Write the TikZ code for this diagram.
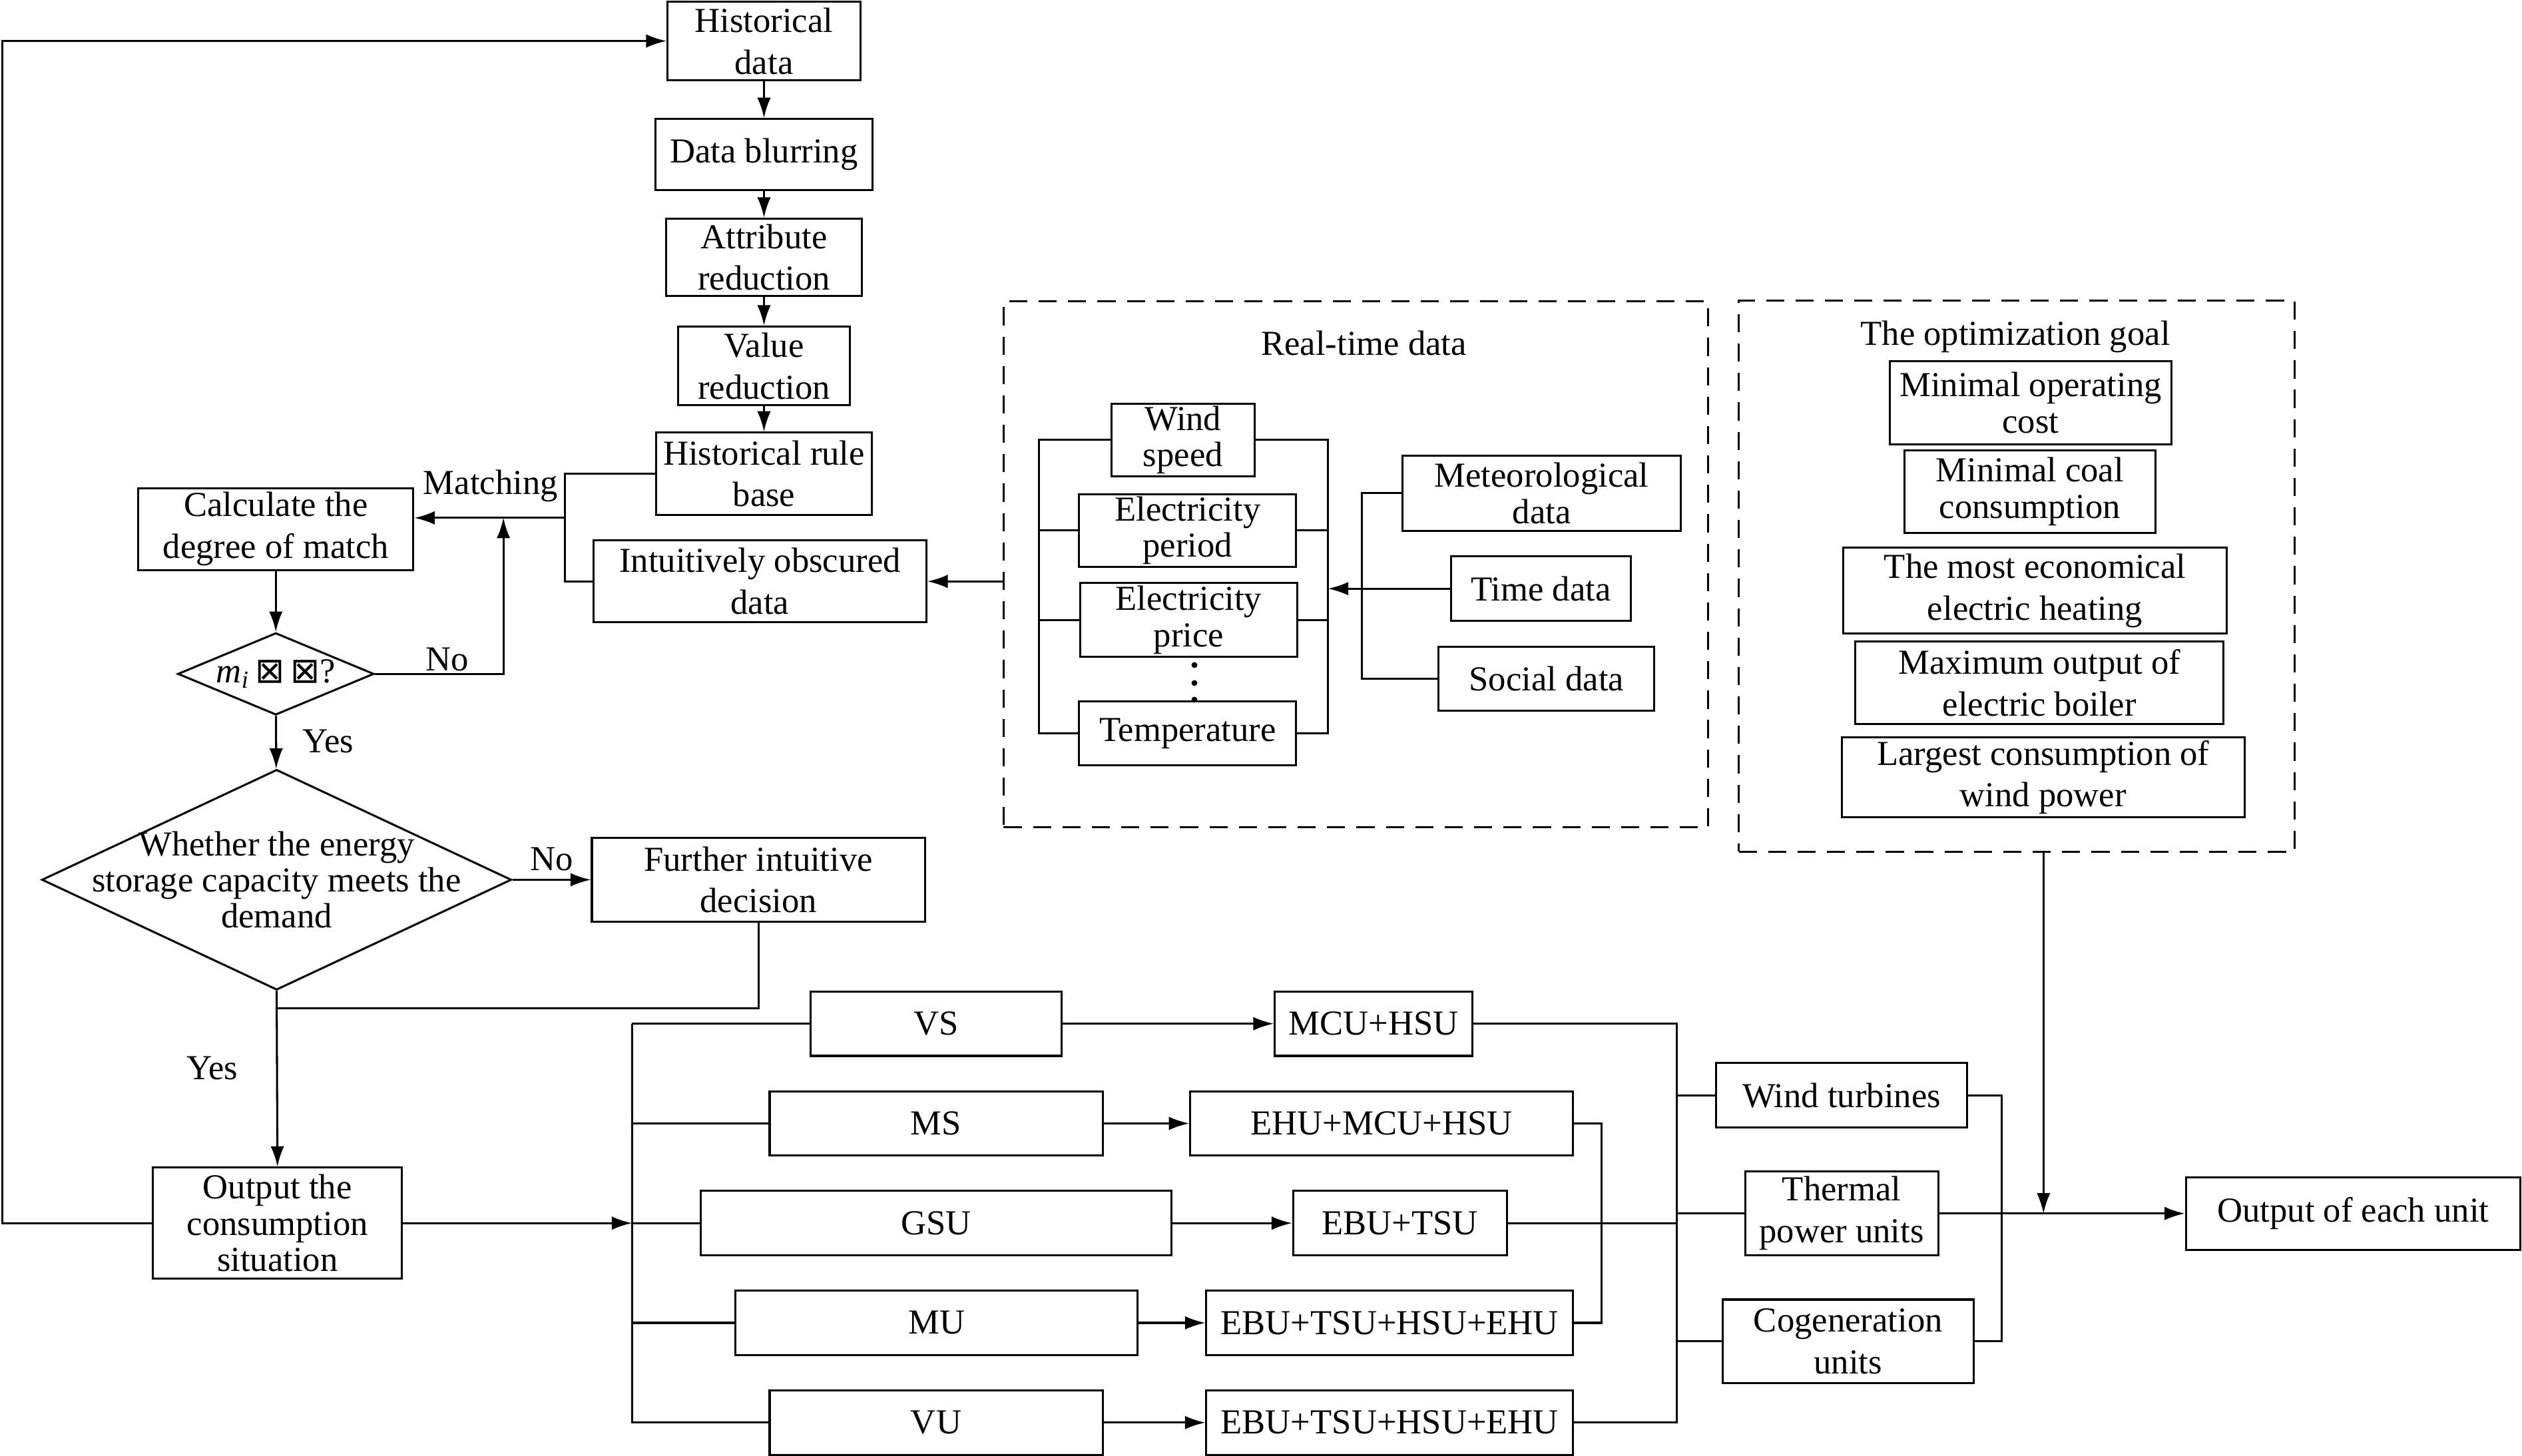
\documentclass[tikz,border=0pt]{standalone}
\usepackage{fontspec}
\setmainfont{Liberation Serif}
\newfontfamily\symb{DejaVu Sans}
\usetikzlibrary{arrows.meta,shapes.geometric}

\tikzset{
  ubox/.style={draw, align=center, inner sep=0pt},
  sz/.style 2 args={minimum width=#1*0.025cm, minimum height=#2*0.025cm},
  tight/.style={font=\fontsize{15.5}{16}\selectfont},
  arr/.style={-{Latex[length=9pt,width=6pt]}},
  grp/.style={draw, dash pattern=on 8pt off 5pt, inner sep=0pt},
}

\begin{document}
\begin{tikzpicture}[x=0.025cm, y=-0.025cm, line width=0.9pt,
  font=\fontsize{15.5}{18.5}\selectfont]
\useasboundingbox (0,0) rectangle (1568,905);

% historical data and the matching loop
\node[ubox, sz={120}{49}] (hist) at (475,25.5) {Historical\\data};
\node[ubox, sz={135}{44}] (blur) at (475,96) {Data blurring};
\node[ubox, sz={122}{48}] (attr) at (475,160) {Attribute\\reduction};
\node[ubox, sz={107}{49}] (val) at (475,227.5) {Value\\reduction};
\node[ubox, sz={134}{51}] (rule) at (475,294.5) {Historical rule\\base};
\node[ubox, sz={207}{51}] (obsc) at (472.5,361.5) {Intuitively obscured\\data};
\node[ubox, sz={171}{51}] (calc) at (171.5,329) {Calculate the\\degree of match};
\node[draw, diamond, aspect=2.4, inner sep=0pt, sz={122}{51}] (dm) at (171.5,419)
  {\textit{m}\textsubscript{\textit{i}}\,{\symb ⊠}\,{\symb\itshape ⊠}?};
\node[draw, diamond, aspect=2.13, inner sep=0pt, sz={292}{137}] (store) at (172,547) {};
\node[tight, align=center] (storetxt) at (172,547)
  {Whether the energy\\storage capacity meets the\\demand};
\node[ubox, sz={207}{52}] (further) at (471.5,547) {Further intuitive\\decision};
\node[ubox, tight, sz={155}{69}] (outc) at (172.5,760.5) {Output the\\consumption\\situation};

\foreach \a/\b in {hist/blur, blur/attr, attr/val, val/rule}
  \draw[arr] (\a) -- (\b);
\draw (rule.west) -- ++(-56,0) coordinate (brk) |- (obsc.west);
\coordinate (mj) at (352,322);
\draw[arr] (mj) -- (mj -| calc.east);
\node (lmatch) at (305,302) {Matching};
\draw[arr] (calc) -- (dm);
\coordinate (nj) at (313,322);
\draw[arr] (dm.east) -| (nj);
\node (lno1) at (278,410) {No};
\draw[arr] (dm) -- (store);
\node (lyes1) at (204,461) {Yes};
\draw[arr] (store.east) -- (further.west);
\node (lno2) at (343,534) {No};
\coordinate (mrg) at (172,627);
\draw (further.south) |- (mrg);
\draw[arr] (store.south) -- (outc.north);
\node (lyes2) at (132,664) {Yes};
\draw[arr] (outc.west) -- ++(-93,0) |- (hist.west);

% consumption situations
\coordinate (bt) at (393,636.5);
\draw[arr] (outc.east) -- (outc.east -| bt);
\node[ubox, sz={156}{40}] (vs) at (582,636.5) {VS};
\node[ubox, sz={207}{40}] (ms) at (582,698.5) {MS};
\node[ubox, sz={293}{40}] (gsu) at (582,760.5) {GSU};
\node[ubox, sz={250}{40}] (mu) at (582.3,822.5) {MU};
\node[ubox, sz={207}{40}] (vu) at (582,884.5) {VU};
\node[ubox, sz={123}{40}] (c1) at (854,636.5) {MCU+HSU};
\node[ubox, sz={238}{40}] (c2) at (859,698.5) {EHU+MCU+HSU};
\node[ubox, sz={133}{40}] (c3) at (870.4,760.5) {EBU+TSU};
\node[ubox, sz={228}{40}] (c4) at (864,822.5) {EBU+TSU+HSU+EHU};
\node[ubox, sz={228}{40}] (c5) at (864,884.5) {EBU+TSU+HSU+EHU};

\draw (bt) -- (vs.west);
\draw (bt) |- (vu.west);
\foreach \n in {ms,gsu,mu}
  \draw (\n.west -| bt) -- (\n.west);
\foreach \a/\b in {vs/c1, ms/c2, gsu/c3, mu/c4, vu/c5}
  \draw[arr] (\a.east) -- (\b.west);
\coordinate (rb) at (1042.5,884.5);
\draw (c1.east) -| (rb) -- (c5.east);
\draw (c2.east) -- ++(17,0) |- (c4.east);
\draw (c3.east) -- (c3.east -| rb);

% units and output
\node[ubox, sz={156}{40}] (wind) at (1145,681) {Wind turbines};
\node[ubox, sz={120}{52}] (therm) at (1145,754.5) {Thermal\\power units};
\node[ubox, sz={156}{52}] (cogen) at (1149,834) {Cogeneration\\units};
\node[ubox, sz={208}{45}] (outu) at (1463,754.5) {Output of each unit};
\foreach \n in {wind,therm,cogen}
  \draw (\n.west -| rb) -- (\n.west);
\draw (wind.east) -- ++(21,0) |- (cogen.east);
\draw[arr] (therm.east) -- (outu.west);
\coordinate (join) at (1270.5,754.5);

% real-time data
\node[grp, sz={438}{327}] (rtbox) at (843,351) {};
\node (rttitle) at (848,213.5) {Real-time data};
\node[ubox, tight, sz={89}{45}] (wspd) at (735.5,273.5) {Wind\\speed};
\node[ubox, tight, sz={135}{45}] (eper) at (738.4,329.8) {Electricity\\period};
\node[ubox, tight, sz={135}{46}] (epri) at (739,385.5) {Electricity\\price};
\node[ubox, sz={135}{40}] (temp) at (738.4,456) {Temperature};
\foreach \y in {413.5,424.7,435}
  \fill (742.6,\y) circle[radius=1.3pt];
\draw (wspd.west) -- ++(-44.5,0) coordinate (lb) |- (temp.west);
\draw (wspd.east) -- ++(45,0) coordinate (rk) |- (temp.east);
\foreach \n in {eper,epri} {
  \draw (\n.west -| lb) -- (\n.west);
  \draw (\n.east) -- (\n.east -| rk);
}
\node[ubox, tight, sz={173}{46.5}] (meteo) at (958.5,306.7) {Meteorological\\data};
\node[ubox, sz={112}{40}] (timed) at (958,366) {Time data};
\node[ubox, sz={134}{40}] (social) at (961.5,422) {Social data};
\draw (meteo.west) -- ++(-24.5,0) coordinate (tr) |- (social.west);
\draw[arr] (timed.west) -- (timed.west -| rk);
\draw[arr] (rtbox.west |- obsc.east) -- (obsc.east);

% optimization goal
\node[grp, sz={345.6}{342.5}] (optbox) at (1253.8,358.3) {};
\node (opttitle) at (1253,209.5) {The optimization goal};
\node[ubox, tight, sz={175}{51.5}] (g1) at (1262.5,250.5) {Minimal operating\\cost};
\node[ubox, tight, sz={156}{51.5}] (g2) at (1262,305.7) {Minimal coal\\consumption};
\node[ubox, sz={238.5}{53.5}] (g3) at (1265.2,367.2) {The most economical\\electric heating};
\node[ubox, sz={229}{51}] (g4) at (1268,424.5) {Maximum output of\\electric boiler};
\node[ubox, sz={250.5}{49.5}] (g5) at (1270.3,483.3) {Largest consumption of\\wind power};
\draw[arr] (optbox.south -| join) -- (join);
\end{tikzpicture}
\end{document}
